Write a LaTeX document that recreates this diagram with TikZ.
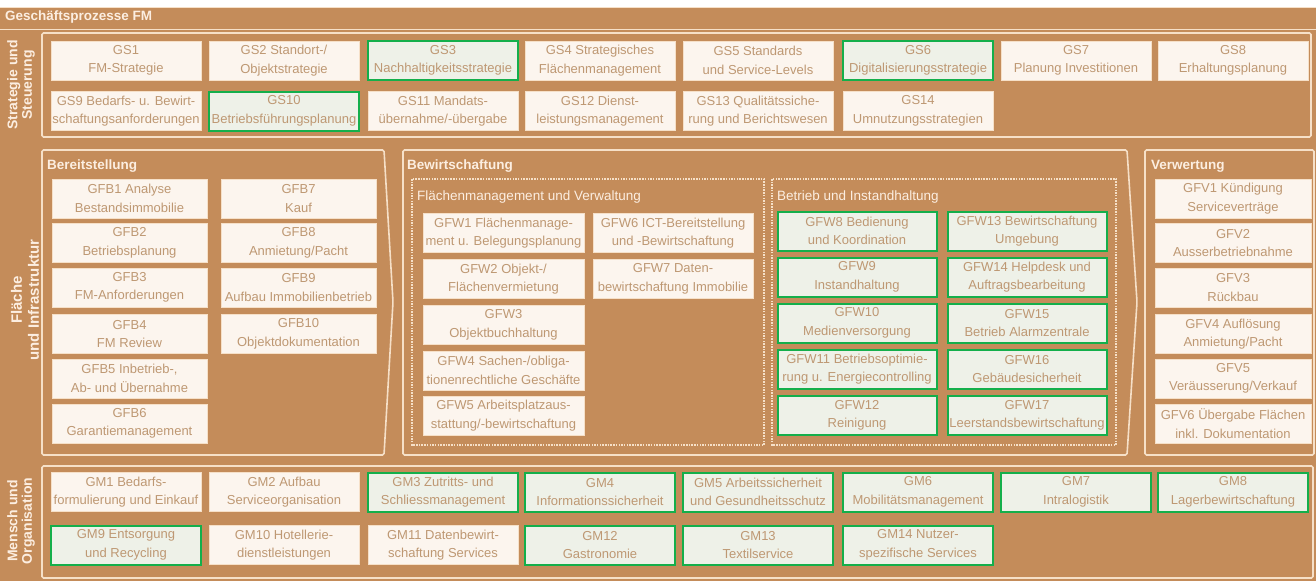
\documentclass[tikz,border=0pt]{standalone}
\usepackage{fontspec}
\setmainfont{Liberation Sans}
\usepackage{xcolor}
\usepackage{tikz}

\definecolor{fmbrown}{RGB}{196,140,90}
\definecolor{fmline}{RGB}{246,224,200}
\definecolor{fmfill}{RGB}{252,245,238}
\definecolor{fmtext}{RGB}{190,152,115}
\definecolor{fmgreen}{RGB}{20,175,75}
\definecolor{fmgfill}{RGB}{238,241,232}
\definecolor{fmtitle}{RGB}{252,238,225}

\tikzset{
  proc/.style={draw=fmline, line width=0.6pt, fill=fmfill, text=fmtext, inner sep=0pt,
    align=center, font=\fontsize{13}{18.5}\selectfont, minimum height=39pt},
  focus/.style={proc, draw=fmgreen, line width=2pt, fill=fmgfill},
  frame/.style={draw=fmline, line width=1.6pt, rounded corners=1.5pt},
  subframe/.style={draw=fmline, line width=1.3pt, dash pattern=on 1.5pt off 1.2pt},
  head/.style={text=fmtitle, font=\bfseries\fontsize{13.5}{14}\selectfont, anchor=west, inner sep=0pt},
  subhead/.style={text=fmtitle, font=\fontsize{13.5}{14}\selectfont, anchor=west, inner sep=0pt},
  side/.style={text=fmtitle, font=\bfseries\fontsize{14}{14.5}\selectfont, rotate=90, align=center, inner sep=0pt},
}

\begin{document}
\begin{tikzpicture}[x=1pt,y=-1pt]
    \useasboundingbox (0,0) rectangle (1316,581);
    \fill[fmbrown] (0,7) rectangle (1316,581);
    \draw[fmline, line width=1pt] (0,7.5) -- (1316,7.5);
    \draw[fmline, line width=0.8pt] (0,29) -- (1316,29);
    %
    \node[head] (title) at (5,17.5) {Geschäftsprozesse FM};
    \node[side] (secS) at (21,85) {Strategie und\\Steuerung};
    \node[side, font=\bfseries\fontsize{15}{17}\selectfont] (secF) at (25,300) {Fläche\\und Infrastruktur};
    \node[side] (secM) at (21,521) {Mensch und\\Organisation};
    %
    \draw[frame] (42,33) rectangle (1311,137);
    \draw[frame] (42,150) -- (384,150) -- (393,302) -- (384,455) -- (42,455) -- cycle;
    \draw[frame] (403,150) -- (1127,150) -- (1137,302) -- (1127,455) -- (403,455) -- cycle;
    \draw[frame] (1145,150) rectangle (1314,455);
    \draw[subframe] (412,179) rectangle (764,445);
    \draw[subframe] (772,179) rectangle (1116,445);
    \draw[frame] (42,466) rectangle (1313,578);
    %
    \node[head] (bereit) at (47,166) {Bereitstellung};
    \node[head] (bewirt) at (407,166) {Bewirtschaftung};
    \node[head] (verwert) at (1151,166) {Verwertung};
    \node[subhead] (flaeche) at (417,197) {Flächenmanagement und Verwaltung};
    \node[subhead] (betrieb) at (777,197) {Betrieb und Instandhaltung};
    % Strategie und Steuerung
    \node[proc, minimum width=150pt] (gs1) at (126,60.5) {GS1\\FM-Strategie};
    \node[proc, minimum width=150pt] (gs2) at (284,60.5) {GS2 Standort-/\\Objektstrategie};
    \node[focus, minimum width=150pt] (gs3) at (443,60.5) {GS3\\Nachhaltigkeitsstrategie};
    \node[proc, minimum width=150pt] (gs4) at (600,60.5) {GS4 Strategisches\\Flächenmanagement};
    \node[proc, minimum width=150pt] (gs5) at (758,60.5) {GS5 Standards\\und Service-Levels};
    \node[focus, minimum width=150pt] (gs6) at (918,60.5) {GS6\\Digitalisierungsstrategie};
    \node[proc, minimum width=150pt] (gs7) at (1076,60.5) {GS7\\Planung Investitionen};
    \node[proc, minimum width=150pt] (gs8) at (1233,60.5) {GS8\\Erhaltungsplanung};
    \node[proc, minimum width=150pt] (gs9) at (126,111) {GS9 Bedarfs- u. Bewirt-\\schaftungsanforderungen};
    \node[focus, minimum width=150pt] (gs10) at (284,111) {GS10\\Betriebsführungsplanung};
    \node[proc, minimum width=150pt] (gs11) at (443,111) {GS11 Mandats-\\übernahme/-übergabe};
    \node[proc, minimum width=150pt] (gs12) at (600,111) {GS12 Dienst-\\leistungsmanagement};
    \node[proc, minimum width=150pt] (gs13) at (758,111) {GS13 Qualitätssiche-\\rung und Berichtswesen};
    \node[proc, minimum width=150pt] (gs14) at (918,111) {GS14\\Umnutzungsstrategien};
    % Bereitstellung
    \node[proc, minimum width=155pt] (gfb1) at (129.5,198.5) {GFB1 Analyse\\Bestandsimmobilie};
    \node[proc, minimum width=155pt] (gfb2) at (129.5,243) {GFB2\\Betriebsplanung};
    \node[proc, minimum width=155pt] (gfb3) at (129.5,287.5) {GFB3\\FM-Anforderungen};
    \node[proc, minimum width=155pt] (gfb4) at (129.5,334) {GFB4\\FM Review};
    \node[proc, minimum width=155pt] (gfb5) at (129.5,378.5) {GFB5 Inbetrieb-,\\Ab- und Übernahme};
    \node[proc, minimum width=155pt] (gfb6) at (129.5,423.5) {GFB6\\Garantiemanagement};
    \node[proc, minimum width=155pt] (gfb7) at (298.5,198.5) {GFB7\\Kauf};
    \node[proc, minimum width=155pt] (gfb8) at (298.5,243) {GFB8\\Anmietung/Pacht};
    \node[proc, minimum width=155pt] (gfb9) at (298.5,287.5) {GFB9\\Aufbau Immobilienbetrieb};
    \node[proc, minimum width=155pt] (gfb10) at (298.5,334) {GFB10\\Objektdokumentation};
    % Bewirtschaftung
    \node[proc, minimum width=161pt] (gfw1) at (503.5,233) {GFW1 Flächenmanage-\\ment u. Belegungsplanung};
    \node[proc, minimum width=161pt] (gfw2) at (503.5,279) {GFW2 Objekt-/\\Flächenvermietung};
    \node[proc, minimum width=161pt] (gfw3) at (503.5,325) {GFW3\\Objektbuchhaltung};
    \node[proc, minimum width=161pt] (gfw4) at (503.5,370.5) {GFW4 Sachen-/obliga-\\tionenrechtliche Geschäfte};
    \node[proc, minimum width=161pt] (gfw5) at (503.5,415.5) {GFW5 Arbeitsplatzaus-\\stattung/-bewirtschaftung};
    \node[proc, minimum width=160pt] (gfw6) at (673,233) {GFW6 ICT-Bereitstellung\\und -Bewirtschaftung};
    \node[proc, minimum width=160pt] (gfw7) at (673,279) {GFW7 Daten-\\bewirtschaftung Immobilie};
    \node[focus, minimum width=159pt] (gfw8) at (857,231) {GFW8 Bedienung\\und Koordination};
    \node[focus, minimum width=159pt] (gfw9) at (857,277) {GFW9\\Instandhaltung};
    \node[focus, minimum width=159pt] (gfw10) at (857,323) {GFW10\\Medienversorgung};
    \node[focus, minimum width=159pt] (gfw11) at (857,369) {GFW11 Betriebsoptimie-\\rung u. Energiecontrolling};
    \node[focus, minimum width=159pt] (gfw12) at (857,415.5) {GFW12\\Reinigung};
    \node[focus, minimum width=159pt] (gfw13) at (1027,231) {GFW13 Bewirtschaftung\\Umgebung};
    \node[focus, minimum width=159pt] (gfw14) at (1027,277) {GFW14 Helpdesk und\\Auftragsbearbeitung};
    \node[focus, minimum width=159pt] (gfw15) at (1027,323) {GFW15\\Betrieb Alarmzentrale};
    \node[focus, minimum width=159pt] (gfw16) at (1027,369) {GFW16\\Gebäudesicherheit};
    \node[focus, minimum width=159pt] (gfw17) at (1027,415.5) {GFW17\\Leerstandsbewirtschaftung};
    % Verwertung
    \node[proc, minimum width=156pt] (gfv1) at (1233,198.5) {GFV1 Kündigung\\Serviceverträge};
    \node[proc, minimum width=156pt] (gfv2) at (1233,243) {GFV2\\Ausserbetriebnahme};
    \node[proc, minimum width=156pt] (gfv3) at (1233,287.5) {GFV3\\Rückbau};
    \node[proc, minimum width=156pt] (gfv4) at (1233,334) {GFV4 Auflösung\\Anmietung/Pacht};
    \node[proc, minimum width=156pt] (gfv5) at (1233,378.5) {GFV5\\Veräusserung/Verkauf};
    \node[proc, minimum width=156pt] (gfv6) at (1233,423.5) {GFV6 Übergabe Flächen\\inkl. Dokumentation};
    % Mensch und Organisation
    \node[proc, minimum width=150pt] (gm1) at (126,492) {GM1 Bedarfs-\\formulierung und Einkauf};
    \node[proc, minimum width=150pt] (gm2) at (284,492) {GM2 Aufbau\\Serviceorganisation};
    \node[focus, minimum width=150pt] (gm3) at (443,492) {GM3 Zutritts- und\\Schliessmanagement};
    \node[focus, minimum width=150pt] (gm4) at (600,492) {GM4\\Informationssicherheit};
    \node[focus, minimum width=150pt] (gm5) at (758,492) {GM5 Arbeitssicherheit\\und Gesundheitsschutz};
    \node[focus, minimum width=150pt] (gm6) at (918,492) {GM6\\Mobilitätsmanagement};
    \node[focus, minimum width=150pt] (gm7) at (1076,492) {GM7\\Intralogistik};
    \node[focus, minimum width=150pt] (gm8) at (1233,492) {GM8\\Lagerbewirtschaftung};
    \node[focus, minimum width=150pt] (gm9) at (126,545) {GM9 Entsorgung\\und Recycling};
    \node[proc, minimum width=150pt] (gm10) at (284,545) {GM10 Hotellerie-\\dienstleistungen};
    \node[proc, minimum width=150pt] (gm11) at (443,545) {GM11 Datenbewirt-\\schaftung Services};
    \node[focus, minimum width=150pt] (gm12) at (600,545) {GM12\\Gastronomie};
    \node[focus, minimum width=150pt] (gm13) at (758,545) {GM13\\Textilservice};
    \node[focus, minimum width=150pt] (gm14) at (918,545) {GM14 Nutzer-\\spezifische Services};
\end{tikzpicture}
\end{document}
